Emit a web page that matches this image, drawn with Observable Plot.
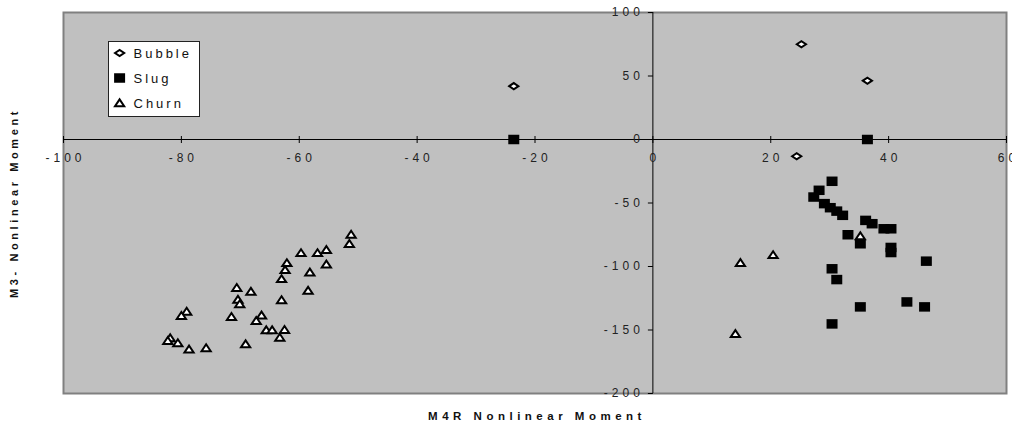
<!DOCTYPE html>
<html><head><meta charset="utf-8">
<script src="https://cdn.jsdelivr.net/npm/d3@7"></script>
<script src="https://cdn.jsdelivr.net/npm/@observablehq/plot@0.6"></script>
<style>
body{margin:0;background:#fff;font-family:"Liberation Sans",Arial,sans-serif;}
#wrap{position:relative;width:1012px;height:430px;overflow:hidden;}
#legend{position:absolute;left:108px;top:41px;}
</style></head><body><div id="wrap"></div>
<script>
// ---- data ----
const bubbleX = [-23.6, 25.2, 36.4, 24.4];
const bubbleY = [42, 75, 46.3, -13.2];

const slugX = [-23.6, 36.4, 30.4, 28.2, 27.3, 29.1, 30.1, 31.2, 32.2, 36.1, 37.2, 39.2, 40.4, 33.1, 35.2, 40.4, 40.4, 46.4, 30.4, 31.2, 35.2, 43.1, 46.1, 30.4];
const slugY = [0, 0, -32.9, -40, -45.3, -50.5, -53.7, -56.4, -59.7, -63.7, -66.3, -70.3, -70.3, -75, -82.1, -85, -89, -95.8, -101.8, -110.3, -131.8, -127.9, -131.8, -145.2];

const churnX = [-51.2, -51.5, -59.7, -56.9, -55.4, -55.4, -62.1, -62.4, -63.0, -58.2, -58.5, -63.0, -70.6, -68.2, -70.4, -70.1, -79.1, -80.0, -71.5, -66.4, -67.3, -65.6, -64.6, -62.5, -63.3, -69.1, -81.9, -82.3, -80.6, -78.7, -75.8, 14.85, 20.4, 14.0, 35.2];
const churnY = [-74.7, -82.1, -89.2, -89.2, -86.8, -98.2, -97.1, -102.6, -109.7, -104.5, -118.9, -126.3, -116.6, -119.7, -126, -129.4, -135.3, -138.7, -139.5, -138.4, -142.6, -150, -150, -149.7, -155.8, -161, -156.3, -158.4, -160.1, -165.1, -164.1, -97, -90.8, -152.9, -76];

const xTicks = [-100, -80, -60, -40, -20, 0, 20, 40, 60];
const xTickLabels = ["-100", "-80", "-60", "-40", "-20", "0", "20", "40", "60"];
const yTicks = [100, 50, 0, -50, -100, -150, -200];
const yTickLabels = ["100", "50", "0", "-50", "-100", "-150", "-200"];

const seriesNames = ["Bubble", "Slug", "Churn"];
const xTitle = "M4R Nonlinear Moment";
const yTitle = "M3- Nonlinear Moment";

// ---- symbols ----
const sqSym = {draw(c){ c.rect(-5.5, -4.75, 11, 9.5); }};
const diaSym = {draw(c){ c.moveTo(-4.6,0); c.lineTo(0,-3.1); c.lineTo(4.6,0); c.lineTo(0,3.1); c.closePath(); }};
const triSym = {draw(c){ c.moveTo(0,-3.6); c.lineTo(4.6,3.3); c.lineTo(-4.6,3.3); c.closePath(); }};
const vTick = {draw(c){ c.moveTo(0,-3.5); c.lineTo(0,3.5); }};
const hTick = {draw(c){ c.moveTo(-5,0); c.lineTo(0,0); }};

const pts = (xs, ys) => xs.map((x, i) => ({x, y: ys[i]}));
const bubble = pts(bubbleX, bubbleY);
const slug = pts(slugX, slugY);
const churn = pts(churnX, churnY);
const xT = xTicks.map((v, i) => ({x: v, y: 0, label: xTickLabels[i]}));
const yT = yTicks.map((v, i) => ({x: 0, y: v, label: yTickLabels[i]}));

const FONT = "Liberation Sans, Arial, sans-serif";

const chart = Plot.plot({
  width: 1012, height: 430,
  marginLeft: 63, marginRight: 6, marginTop: 12, marginBottom: 37,
  style: {fontFamily: FONT, background: "white", overflow: "visible"},
  x: {domain: [-100, 60], axis: null},
  y: {domain: [-200, 100], axis: null},
  marks: [
    Plot.frame({fill: "#c0c0c0", stroke: "#808080", strokeWidth: 2}),
    Plot.ruleY([0], {stroke: "black", strokeWidth: 1}),
    Plot.ruleX([0], {stroke: "black", strokeWidth: 1}),
    Plot.dot(xT, {x: "x", y: "y", symbol: vTick, stroke: "black", strokeWidth: 1, fill: "none"}),
    Plot.dot(yT, {x: "x", y: "y", symbol: hTick, stroke: "black", strokeWidth: 1, fill: "none"}),
    Plot.text(xT, {x: "x", y: "y", text: "label", dy: 19, dx: 2, fontSize: 12, fill: "#222"}),
    Plot.text(yT, {x: "x", y: "y", text: "label", dx: -9, textAnchor: "end", fontSize: 12, fill: "#222"}),
    Plot.text([xTitle], {frameAnchor: "bottom", dy: 26, dx: 2, fontSize: 11.5, fontWeight: "bold", fill: "#111"}),
    Plot.text([yTitle], {frameAnchor: "left", textAnchor: "middle", dx: -49, rotate: -90, fontSize: 11, fontWeight: "bold", fill: "#111"}),
    Plot.dot(bubble, {x: "x", y: "y", symbol: diaSym, fill: "white", stroke: "black", strokeWidth: 2}),
    Plot.dot(slug, {x: "x", y: "y", symbol: sqSym, fill: "black", stroke: "none"}),
    Plot.dot(churn, {x: "x", y: "y", symbol: triSym, fill: "white", stroke: "black", strokeWidth: 2})
  ]
});

const wrap = document.getElementById("wrap");
wrap.appendChild(chart);
const tickSet = new Set([...xTickLabels, ...yTickLabels]);
d3.select(chart).selectAll("text").each(function() {
  const t = this.textContent;
  if (t === xTitle) this.style.letterSpacing = "4.5px";
  else if (t === yTitle) this.style.letterSpacing = "3.6px";
  else if (tickSet.has(t)) this.style.letterSpacing = "4px";
});

// ---- legend ----
const legendSyms = [
  {sym: diaSym, fill: "white", stroke: "black", sw: 2},
  {sym: sqSym, fill: "black", stroke: "none", sw: 0},
  {sym: triSym, fill: "white", stroke: "black", sw: 2}
];
const lg = d3.select(wrap).append("svg").attr("id", "legend").attr("width", 92).attr("height", 76);
lg.append("rect").attr("x", 0.5).attr("y", 0.5).attr("width", 91).attr("height", 75).attr("fill", "white").attr("stroke", "#222");
seriesNames.forEach((name, i) => {
  const cy = 12 + 25 * i;
  const s = legendSyms[i];
  lg.append("path").attr("d", d3.symbol(s.sym)()).attr("transform", `translate(11.6,${cy})`)
    .attr("fill", s.fill).attr("stroke", s.stroke).attr("stroke-width", s.sw);
  lg.append("text").attr("x", 25.5).attr("y", cy).attr("dy", "0.35em")
    .attr("font-family", FONT).attr("font-size", 13).attr("fill", "#111")
    .style("letter-spacing", "3px").text(name);
});
</script></body></html>
